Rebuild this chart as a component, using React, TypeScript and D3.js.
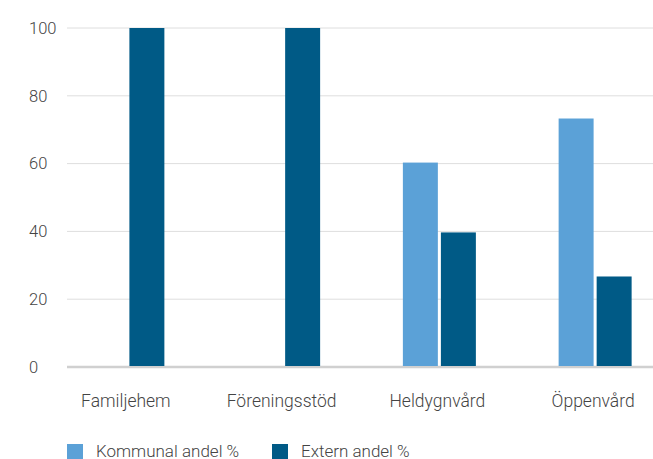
import React from "react";
import * as d3 from "d3";

const categories = ["Familjehem", "Föreningsstöd", "Heldygnvård", "Öppenvård"];
const kommunal = [0, 0, 60.3, 73.3];
const extern = [100, 100, 39.7, 26.7];
const seriesNames = ["Kommunal andel %", "Extern andel %"];
const colors = ["#5BA1D7", "#005A86"];
const yTicks = [0, 20, 40, 60, 80, 100];

const W = 653;
const H = 459;

export default function App() {
  const x = d3.scaleBand<string>().domain(categories).range([50, 673]).paddingInner(0).paddingOuter(0);
  const groupW = 73;
  const inner = d3.scaleBand<string>().domain(seriesNames).range([0, groupW]).paddingInner(0.08).paddingOuter(0);
  const y = d3.scaleLinear().domain([0, 100]).range([367, 28]);
  const series = [kommunal, extern];
  const font = "Roboto, 'Noto Sans', sans-serif";
  return (
    <svg width={W} height={H} style={{ position: "absolute", left: 0, top: 0, display: "block" }} fontFamily={font} fontWeight={300}>
      <rect width={W} height={H} fill="#fff" />
      {yTicks.map((t) => (
        <g key={t}>
          <line x1={67} x2={W} y1={y(t)} y2={y(t)} stroke={t === 0 ? "#d0d0d0" : "#dedede"} strokeWidth={t === 0 ? 2.5 : 1} />
          <text x={29} y={y(t)} dy="0.35em" fontSize={16.5} fill="#444">{t}</text>
        </g>
      ))}
      {categories.map((c, i) => {
        const cx = (x(c) ?? 0) + x.bandwidth() / 2;
        return (
          <g key={c}>
            {series.map((s, j) => (
              s[i] > 0 ? (
                <rect key={j} x={cx - groupW / 2 + (inner(seriesNames[j]) ?? 0)} y={y(s[i])} width={inner.bandwidth()} height={y(0) - y(s[i]) - 1} fill={colors[j]} />
              ) : null
            ))}
            <text x={cx - 2} y={407} textAnchor="middle" fontSize={17.5} fill="#444">{c}</text>
          </g>
        );
      })}
      {seriesNames.map((n, j) => {
        const lx = j === 0 ? 67 : 272;
        return (
          <g key={n}>
            <rect x={lx} y={444} width={16} height={15} fill={colors[j]} />
            <text x={lx + 29} y={457} fontSize={17} fill="#444">{n}</text>
          </g>
        );
      })}
    </svg>
  );
}
